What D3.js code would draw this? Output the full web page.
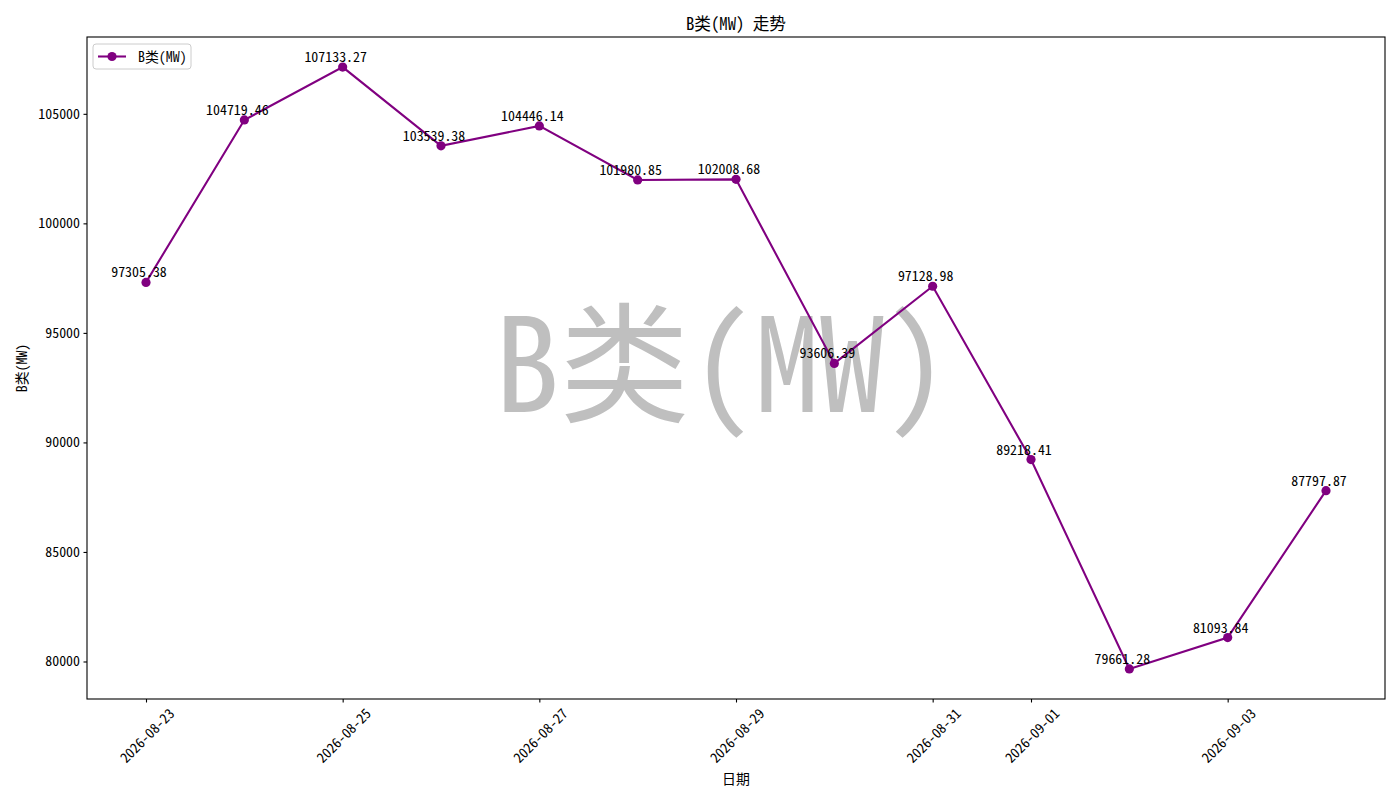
<!DOCTYPE html>
<html>
<head>
<meta charset="utf-8">
<script src="https://cdn.jsdelivr.net/npm/d3@7"></script>
<style>
  body { margin: 0; background: #fff; }
  svg text { font-family: "Noto Sans Mono CJK SC", "Noto Sans CJK SC", sans-serif; }
</style>
</head>
<body>
<div id="chart"></div>
<script>
// data
const dates = ['2026-08-23', '2026-08-24', '2026-08-25', '2026-08-26', '2026-08-27', '2026-08-28', '2026-08-29',
  '2026-08-30', '2026-08-31', '2026-09-01', '2026-09-02', '2026-09-03', '2026-09-04'];
const values = [97305.38, 104719.46, 107133.27, 103539.38, 104446.14, 101980.85, 102008.68,
  93606.39, 97128.98, 89218.41, 79661.28, 81093.84, 87797.87];
const xTickLabels = ['2026-08-23', '2026-08-25', '2026-08-27', '2026-08-29', '2026-08-31', '2026-09-01', '2026-09-03'];
const yTickValues = [80000, 85000, 90000, 95000, 100000, 105000];
const seriesName = 'B类(MW)';

let margin = { top: 37, left: 87, right: 15, bottom: 101 },
  width = 1400 - margin.left - margin.right,
  height = 800 - margin.top - margin.bottom;

const parse = d3.utcParse('%Y-%m-%d');
const data = dates.map((d, i) => ({ date: parse(d), value: values[i] }));
const color = '#800080';
const fs = 13.9;

let svg = d3.select('#chart').append('svg')
  .attr('width', 1400)
  .attr('height', 800)
  .style('background-color', '#FFFFFF');

let g = svg.append('g').attr('transform', 'translate(' + margin.left + ',' + margin.top + ')');

// matplotlib style 5% margins
const xExt = d3.extent(data, d => d.date);
const xPad = (xExt[1] - xExt[0]) * 0.05;
const xScale = d3.scaleUtc()
  .domain([new Date(+xExt[0] - xPad), new Date(+xExt[1] + xPad)])
  .range([0, width]);

const yExt = d3.extent(values);
const yPad = (yExt[1] - yExt[0]) * 0.05;
const yScale = d3.scaleLinear()
  .domain([yExt[0] - yPad, yExt[1] + yPad])
  .range([height, 0]);

// big watermark behind the line
g.append('text')
  .attr('x', width / 2 - 14)
  .attr('y', 375)
  .attr('text-anchor', 'middle')
  .attr('font-size', 130)
  .attr('fill', '#bfbfbf')
  .text(seriesName);

// x axis
let xAxis = g.append('g')
  .attr('transform', 'translate(0,' + height + ')')
  .call(d3.axisBottom(xScale)
    .tickValues(xTickLabels.map(parse))
    .tickSize(3.5)
    .tickFormat(d3.utcFormat('%Y-%m-%d')));
xAxis.select('.domain').remove();
xAxis.selectAll('line').attr('stroke', '#000').attr('stroke-width', 1.1);
xAxis.selectAll('text')
  .attr('font-size', fs)
  .attr('fill', '#000')
  .attr('text-anchor', 'middle')
  .attr('dy', null)
  .attr('y', null)
  .attr('dominant-baseline', 'central')
  .attr('transform', 'translate(0,36) rotate(-45)');

// y axis
let yAxis = g.append('g')
  .call(d3.axisLeft(yScale).tickValues(yTickValues).tickSize(3.5).tickPadding(3.5).tickFormat(d => d));
yAxis.select('.domain').remove();
yAxis.selectAll('line').attr('stroke', '#000').attr('stroke-width', 1.1);
yAxis.selectAll('text').attr('font-size', fs).attr('fill', '#000');

// line + markers
g.append('path')
  .datum(data)
  .attr('fill', 'none')
  .attr('stroke', color)
  .attr('stroke-width', 2.08)
  .attr('d', d3.line().x(d => xScale(d.date)).y(d => yScale(d.value)));

g.selectAll('.dot')
  .data(data)
  .enter().append('circle')
  .attr('class', 'dot')
  .attr('cx', d => xScale(d.date))
  .attr('cy', d => yScale(d.value))
  .attr('r', 4.6)
  .attr('fill', color);

// value labels sit a little left of the point, as in the original
g.selectAll('.lbl')
  .data(data)
  .enter().append('text')
  .attr('class', 'lbl')
  .attr('x', d => xScale(d.date) - 7)
  .attr('y', d => yScale(d.value) - 5)
  .attr('text-anchor', 'middle')
  .attr('font-size', fs)
  .attr('fill', '#000')
  .text(d => d.value.toFixed(2));

// frame
g.append('rect')
  .attr('width', width)
  .attr('height', height)
  .attr('fill', 'none')
  .attr('stroke', '#000')
  .attr('stroke-width', 1.1);

// legend
let lg = g.append('g').attr('transform', 'translate(6,7)');
lg.append('rect')
  .attr('width', 98).attr('height', 25).attr('rx', 3)
  .attr('fill', '#fff').attr('fill-opacity', 0.8)
  .attr('stroke', '#cccccc').attr('stroke-width', 1);
lg.append('line')
  .attr('x1', 5).attr('x2', 33).attr('y1', 12.5).attr('y2', 12.5)
  .attr('stroke', color).attr('stroke-width', 2.08);
lg.append('circle').attr('cx', 19).attr('cy', 12.5).attr('r', 4.6).attr('fill', color);
lg.append('text')
  .attr('x', 45).attr('y', 17.5)
  .attr('font-size', fs).attr('fill', '#000')
  .text(seriesName);

// title and axis labels
svg.append('text')
  .attr('x', margin.left + width / 2).attr('y', 30)
  .attr('text-anchor', 'middle')
  .attr('font-size', 16.7)
  .text(seriesName + ' 走势');

svg.append('text')
  .attr('x', margin.left + width / 2).attr('y', 784)
  .attr('text-anchor', 'middle')
  .attr('font-size', fs)
  .text('日期');

svg.append('text')
  .attr('transform', 'translate(27,' + (margin.top + height / 2) + ') rotate(-90)')
  .attr('text-anchor', 'middle')
  .attr('font-size', fs)
  .text(seriesName);
</script>
</body>
</html>
